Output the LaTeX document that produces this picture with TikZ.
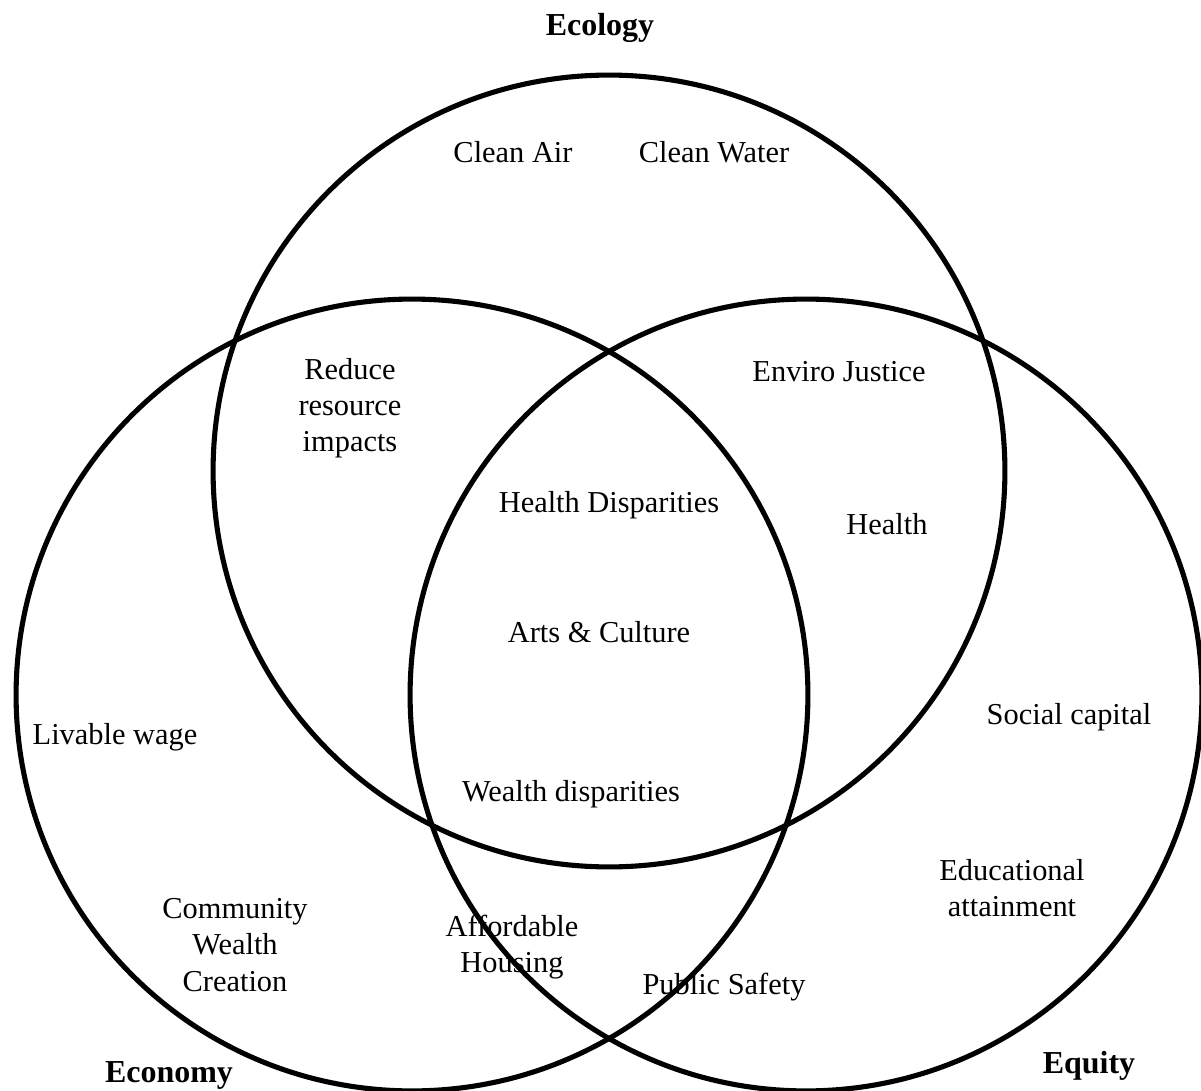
\documentclass[tikz,border=0pt]{standalone}
\usepackage{fontspec}
\setmainfont{Liberation Serif}
\begin{document}
\begin{tikzpicture}[x=0.02cm,y=-0.02cm,
  vcircle/.style={circle,draw=black,line width=2.9pt,minimum size=15.84cm,inner sep=0pt},
  lbl/.style={align=center,inner sep=0pt,font=\fontsize{17.3}{20.6}\selectfont},
  ttl/.style={inner sep=0pt,font=\fontsize{18.2}{22}\selectfont\bfseries}]
\useasboundingbox (0,0) rectangle (1201,1091);
\node[vcircle] (ecology) at (609,471) {};
\node[vcircle] (economy) at (412,695) {};
\node[vcircle] (equity) at (806,695) {};
\node[ttl] (tEco) at (600,28) {Ecology};
\node[ttl] (tEcon) at (169,1075) {Economy};
\node[ttl] (tEq) at (1089,1066) {Equity};
\node[lbl] (air) at (513,152) {Clean Air};
\node[lbl] (water) at (714,152) {Clean Water};
\node[lbl] (reduce) at (350,408) {Reduce\\resource\\impacts};
\node[lbl] (enviro) at (839,372) {Enviro Justice};
\node[lbl] (hdisp) at (609,505) {Health Disparities};
\node[lbl] (health) at (887,524) {Health};
\node[lbl] (arts) at (599,632) {Arts \& Culture};
\node[lbl] (social) at (1069,717) {Social capital};
\node[lbl] (wage) at (115,737) {Livable wage};
\node[lbl] (wdisp) at (571,794) {Wealth disparities};
\node[lbl] (edu) at (1012,888) {Educational\\attainment};
\node[lbl] (cwc) at (235,945) {Community\\Wealth\\Creation};
\node[lbl] (house) at (512,947) {Affordable\\Housing};
\node[lbl] (safety) at (724,987) {Public Safety};
\end{tikzpicture}
\end{document}
